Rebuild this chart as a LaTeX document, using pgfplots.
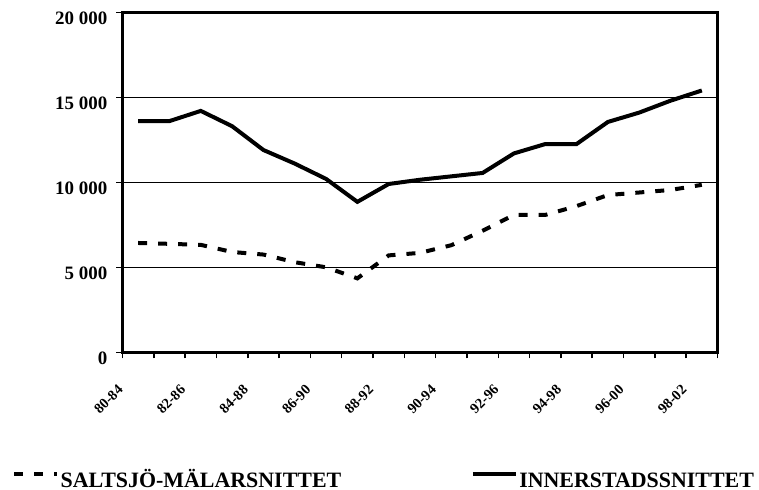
\documentclass[border=0pt]{standalone}
\usepackage{fontspec}
\setmainfont{Liberation Serif}
\usepackage{pgfplots}
\pgfplotsset{compat=1.18}
\begin{document}
\begin{tikzpicture}
\useasboundingbox (-122.5bp,-137.7bp) rectangle (636.5bp,352.3bp);
\begin{axis}[
  at={(0bp,0bp)}, anchor=south west,
  scale only axis, width=595bp, height=340bp,
  xmin=-0.5, xmax=18.5, ymin=0, ymax=20000,
  scaled y ticks=false,
  axis line style={line width=3.5bp},
  tick align=outside,
  major tick length=6bp,
  tick style={line width=1.5bp, black},
  xtick pos=bottom, ytick pos=left,
  xtick={-0.5,0.5,...,18.5},
  xticklabels={80-84,,82-86,,84-88,,86-90,,88-92,,90-94,,92-96,,94-98,,96-00,,98-02,},
  ytick={0,5000,10000,15000,20000},
  yticklabels={0,5 000,10 000,15 000,20 000},
  ymajorgrids,
  grid style={line width=1.2bp, black},
  xticklabel style={inner sep=0pt, yshift=-29bp, xshift=-2bp, rotate=45, anchor=east,
     font=\fontsize{14.5}{16}\selectfont\bfseries},
  yticklabel style={inner sep=0pt, xshift=-9bp, yshift=-6bp, anchor=east,
     font=\fontsize{19}{22}\selectfont\bfseries},
  legend columns=2,
  legend cell align=left,
  legend style={draw=none, fill=none, at={(0,0)}, anchor=south west,
     xshift=-110.5bp, yshift=-137.3bp, inner sep=0pt,
     font=\fontsize{22}{24}\selectfont\bfseries,
     nodes={inner sep=1.5bp, text height=16bp, text depth=0bp},
     /tikz/every even column/.append style={column sep=128bp}},
  legend image code/.code={\draw[#1] (0bp,5.5bp) -- (43bp,5.5bp);},
]
\addplot[black, line width=4bp, dash pattern=on 9bp off 11bp] coordinates {
(0,6430) (1,6380) (2,6320) (3,5900) (4,5750) (5,5300) (6,5000) (7,4350)
(8,5700) (9,5850) (10,6300) (11,7150) (12,8080) (13,8080) (14,8600)
(15,9250) (16,9400) (17,9550) (18,9850)};
\addlegendentry{SALTSJÖ-MÄLARSNITTET}
\addplot[black, line width=4bp] coordinates {
(0,13600) (1,13600) (2,14200) (3,13300) (4,11900) (5,11100) (6,10200) (7,8850)
(8,9900) (9,10150) (10,10350) (11,10550) (12,11700) (13,12250) (14,12250)
(15,13550) (16,14100) (17,14800) (18,15400)};
\addlegendentry{INNERSTADSSNITTET}
\end{axis}
\end{tikzpicture}
\end{document}
